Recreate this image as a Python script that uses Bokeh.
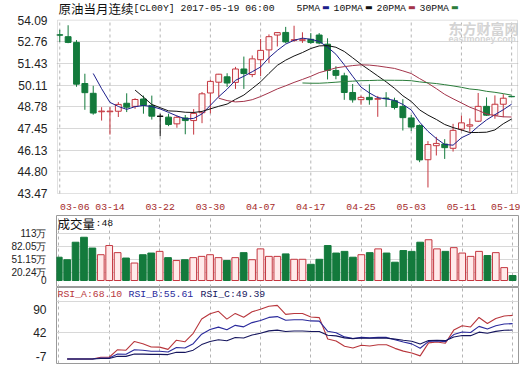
import numpy as np
import pandas as pd
from bokeh.plotting import figure
from bokeh.models import Range1d, FixedTicker, Label, ColumnDataSource, Grid, BoxAnnotation
from bokeh.layouts import column
from bokeh.embed import file_html
from bokeh.resources import INLINE

# ---------------- data ----------------
dates = ["03-06", "03-07", "03-08", "03-09", "03-10", "03-13", "03-14", "03-15", "03-16", "03-17",
         "03-20", "03-21", "03-22", "03-23", "03-24", "03-27", "03-28", "03-29", "03-30", "03-31",
         "04-03", "04-04", "04-05", "04-06", "04-07", "04-10", "04-11", "04-12", "04-13", "04-14",
         "04-17", "04-18", "04-19", "04-20", "04-21", "04-24", "04-25", "04-26", "04-27", "04-28",
         "05-01", "05-02", "05-03", "05-04", "05-05", "05-08", "05-09", "05-10", "05-11", "05-12",
         "05-15", "05-16", "05-17", "05-18", "05-19"]

opens = [53.20, 53.08, 52.73, 50.21, 49.61, 48.48, 48.48, 48.51, 49.00, 48.81,
         49.26, 48.87, 48.20, 48.15, 47.74, 48.10, 47.94, 48.42, 49.63, 50.29,
         50.62, 50.28, 51.10, 50.76, 51.67, 52.27, 53.18, 53.34, 52.86, 52.86,
         52.92, 53.18, 52.62, 51.01, 50.68, 49.66, 49.22, 49.36, 49.25, 49.32,
         49.16, 48.81, 48.10, 47.64, 45.54, 46.40, 46.50, 46.24, 47.42, 47.60,
         47.90, 48.81, 48.27, 48.94, 49.42]
highs = [53.50, 53.78, 52.87, 50.81, 50.07, 48.76, 48.76, 49.07, 49.61, 49.31,
         49.47, 49.47, 48.36, 48.36, 48.24, 48.28, 48.64, 49.69, 50.45, 50.80,
         50.84, 51.23, 51.86, 51.93, 52.94, 53.22, 53.36, 53.68, 53.75, 53.35,
         53.30, 53.30, 52.98, 51.27, 50.87, 50.18, 49.47, 50.16, 49.45, 49.68,
         49.34, 49.25, 48.28, 47.70, 46.68, 46.94, 46.80, 47.74, 48.25, 48.07,
         49.63, 49.36, 49.48, 49.56, 49.43]
lows = [52.76, 52.68, 50.01, 48.60, 48.30, 47.94, 47.08, 48.16, 48.46, 48.66,
        48.36, 48.00, 46.98, 47.60, 47.50, 47.10, 47.08, 47.78, 48.38, 49.36,
        50.00, 49.88, 49.88, 50.60, 50.67, 51.47, 52.48, 52.68, 52.76, 52.70,
        52.64, 52.62, 50.46, 50.47, 49.21, 49.04, 48.91, 48.91, 48.17, 48.78,
        48.62, 47.33, 47.30, 45.39, 43.84, 45.80, 45.59, 46.04, 47.30, 47.25,
        47.85, 48.22, 48.05, 48.15, 49.38]
closes = [53.17, 52.73, 50.17, 49.65, 48.40, 48.52, 48.52, 48.93, 48.76, 49.23,
          48.87, 48.21, 48.20, 47.70, 48.14, 47.94, 48.38, 49.58, 50.34, 50.78,
          50.24, 51.10, 50.82, 51.72, 52.24, 53.08, 53.33, 52.76, 52.89, 52.89,
          52.72, 52.69, 51.01, 50.71, 49.66, 49.21, 49.36, 49.22, 49.28, 49.28,
          48.74, 48.12, 47.54, 45.53, 46.47, 46.54, 46.28, 47.34, 47.80, 47.68,
          48.81, 48.27, 48.94, 49.31, 49.40]
# volume in 万
volumes = [56, 50, 92, 104, 78, 62, 84, 67, 54, 42,
           62, 66, 70, 55, 48, 50, 55, 58, 62, 55,
           48, 55, 67, 50, 76, 58, 58, 64, 51, 51,
           39, 51, 84, 66, 70, 56, 62, 67, 76, 66,
           44, 72, 70, 92, 98, 76, 70, 79, 66, 58,
           70, 60, 67, 31, 12]

price_ticks = [54.09, 52.76, 51.43, 50.11, 48.78, 47.45, 46.13, 44.80, 43.47]
price_tick_labels = ["54.09", "52.76", "51.43", "50.11", "48.78", "47.45", "46.13", "44.80", "43.47"]
vol_ticks = [113, 82.05, 51.15, 20.24, 0]
vol_tick_labels = ["113万", "82.05万", "51.15万", "20.24万", "0"]
rsi_grid_ticks = [90, 42]
rsi_range = (-7, 111.9)

title_cn = "原油当月连续"
title_code = "[CL00Y] 2017-05-19 06:00"
ma_periods = [5, 10, 20, 30]
ma_names = ["5PMA", "10PMA", "20PMA", "30PMA"]
vol_title = "成交量"
vol_value = ":48"
rsi_periods = [6, 12, 24]
rsi_labels = ["RSI_A:68.10", "RSI_B:55.61", "RSI_C:49.39"]
label_step = 6

# ---------------- styles ----------------
RED = "#c4363f"
GREEN = "#137a3c"
BLACK = "#111111"
HOLLOW = "#fff6f6"
VHOLLOW = "#ffeaea"
ma_colors = ["#1d1f8c", "#111111", "#a3344a", "#2b7d3b"]
rsi_colors = ["#b8363c", "#2a2a9c", "#16165e"]
OUTLINE = "#9a9a9a"
HGRID = "#d8d8d8"
VGRID = "#b4b4b4"
MONO = "Liberation Mono"
CJK = "Noto Sans CJK SC"

n = len(closes)
idx = np.arange(n)
o = np.array(opens); hi = np.array(highs); lo = np.array(lows); c = np.array(closes)

ccolor = np.where(c > o, RED, np.where(c < o, GREEN, BLACK))
cfill = np.where(c > o, HOLLOW, ccolor)
vcolor = np.where(c >= o, RED, GREEN)
vfill = np.where(c >= o, VHOLLOW, GREEN)

src = ColumnDataSource(dict(
    x=idx, high=hi, low=lo, top=np.maximum(o, c), bottom=np.minimum(o, c),
    color=list(ccolor), fill=list(cfill), vol=volumes, vcolor=list(vcolor), vfill=list(vfill)))

# panel frames: x 56..518 in the picture
PANEL_LEFT, PANEL_RIGHT_BORDER = 56, 2
X0, X1 = -0.27, 54.7
px_per_x = (520 - PANEL_LEFT - PANEL_RIGHT_BORDER) / (X1 - X0)
label_idx = list(range(0, n, label_step))
xr = Range1d(X0, X1)


def style_yaxis(p, ticks, overrides, size, font, standoff=4):
    ax = p.yaxis[0]
    ax.ticker = FixedTicker(ticks=ticks)
    ax.major_label_overrides = overrides
    ax.major_tick_line_color = None
    ax.minor_tick_line_color = None
    ax.axis_line_color = None
    ax.major_label_standoff = standoff
    ax.major_label_text_font = font
    ax.major_label_text_font_size = size
    ax.major_label_text_color = "#222222"


def put(p, frame_left, frame_top, frame_h, x_abs, y_abs, text, font, size, color, bold=False):
    p.add_layout(Label(x=x_abs - frame_left, y=frame_h - (y_abs - frame_top),
                       x_units="screen", y_units="screen", text=text,
                       text_font=font, text_font_size=size, text_color=color,
                       text_font_style="bold" if bold else "normal",
                       text_baseline="middle", text_align="left"))


# ---------------- main price panel ----------------
# the frame of this figure also holds the header row: frame y 0..197, x 55..519;
# the boxed price area is y 20..196, x 56..518 (drawn as a box annotation)
MAIN_H, M_BOX_TOP, M_BOX_BOT = 212, 20, 196
m_left, m_right_b, m_bottom_b = PANEL_LEFT - 1, PANEL_RIGHT_BORDER - 1, MAIN_H - M_BOX_BOT - 1
m_frame_h = MAIN_H - m_bottom_b
per_px = (price_ticks[0] - price_ticks[-1]) / (M_BOX_BOT - M_BOX_TOP)
main_yr = Range1d(price_ticks[-1] - (m_frame_h - M_BOX_BOT) * per_px, price_ticks[0] + M_BOX_TOP * per_px)
main_xr = Range1d(X0 - 1 / px_per_x, X1 + 1 / px_per_x)

p1 = figure(width=520, height=MAIN_H, x_range=main_xr, y_range=main_yr,
            output_backend="svg", toolbar_location=None,
            min_border_left=m_left, min_border_right=m_right_b,
            min_border_top=0, min_border_bottom=m_bottom_b)
p1.outline_line_color = None
p1.center = [r for r in p1.center if not isinstance(r, Grid)]
style_yaxis(p1, price_ticks, dict(zip(price_ticks, price_tick_labels)), "12px", "Liberation Sans", standoff=3)
p1.add_layout(Grid(dimension=1, ticker=FixedTicker(ticks=price_ticks[1:-1]),
                   grid_line_color=HGRID, grid_line_width=1))
# dashed verticals, only inside the price box
p1.segment(x0=label_idx, x1=label_idx, y0=price_ticks[-1], y1=price_ticks[0],
           line_color=VGRID, line_dash="3 3", line_width=1)

xa = p1.xaxis[0]
xticks = [label_idx[0] + 1.8] + label_idx[1:]
xa.ticker = FixedTicker(ticks=xticks)
xa.major_label_overrides = {t: dates[i] for t, i in zip(xticks, label_idx)}
xa.major_tick_line_color = None
xa.minor_tick_line_color = None
xa.axis_line_color = None
xa.major_label_standoff = 3
xa.major_label_text_font = MONO
xa.major_label_text_font_size = "9.8px"
xa.major_label_text_color = "#a52a2a"

# watermark
put(p1, m_left, 0, m_frame_h, 447, 30, "东方财富网", CJK, "14px", "#d4d4d4", bold=True)
put(p1, m_left, 0, m_frame_h, 447, 41.5, "eastmoney.com", "Liberation Sans", "9px", "#d4d4d4", bold=True)

p1.segment(x0="x", y0="low", x1="x", y1="high", line_color="color", line_width=1, source=src)
p1.vbar(x="x", width=0.7, top="top", bottom="bottom", fill_color="fill", line_color="color",
        line_width=1, source=src)
doji = np.abs(c - o) < 1e-9
if doji.any():
    p1.segment(x0=list(idx[doji] - 0.35), x1=list(idx[doji] + 0.35), y0=list(c[doji]), y1=list(c[doji]),
               line_color=list(ccolor[doji]), line_width=1)

cs = pd.Series(c)
for N, col in zip(ma_periods, ma_colors):
    ma = cs.rolling(N).mean().values
    p1.line(idx, ma, line_color=col, line_width=1)

p1.add_layout(BoxAnnotation(left=X0, right=X1, bottom=price_ticks[-1], top=price_ticks[0],
                            fill_alpha=0, line_color=OUTLINE, line_width=1))

# header row
put(p1, m_left, 0, m_frame_h, 57, 10.5, title_cn, CJK, "12.5px", "#111111")
put(p1, m_left, 0, m_frame_h, 132, 10.5, title_code, MONO, "9.8px", "#111111")
legend_x = [295, 332, 375, 418]
for name, col, lx in zip(ma_names, ma_colors, legend_x):
    put(p1, m_left, 0, m_frame_h, lx, 10.5, name, MONO, "9.8px", "#111111")
    put(p1, m_left, 0, m_frame_h, lx + len(name) * 5.88 + 2, 10, "▬", "DejaVu Sans", "8px", col)


def panel_fig(height, top, bottom, yr):
    p = figure(width=520, height=height, x_range=xr, y_range=yr,
               output_backend="svg", toolbar_location=None,
               min_border_left=PANEL_LEFT, min_border_right=PANEL_RIGHT_BORDER,
               min_border_top=top, min_border_bottom=bottom, x_axis_location=None)
    p.outline_line_color = OUTLINE
    p.center = [r for r in p.center if not isinstance(r, Grid)]
    return p


def add_grids(p, yticks):
    p.add_layout(Grid(dimension=0, ticker=FixedTicker(ticks=label_idx),
                      grid_line_color=VGRID, grid_line_dash="3 3", grid_line_width=1))
    p.add_layout(Grid(dimension=1, ticker=FixedTicker(ticks=yticks),
                      grid_line_color=HGRID, grid_line_width=1))


# ---------------- volume panel: frame y 215..287 ----------------
VT, VH = 215, 72
p2 = panel_fig(75, 3, 0, Range1d(-16.8, 156.25))
style_yaxis(p2, vol_ticks, dict(zip(vol_ticks, vol_tick_labels)), "10px", "Liberation Sans")
add_grids(p2, vol_ticks[:-1])
p2.vbar(x="x", width=0.8, top="vol", bottom=0, fill_color="vfill", line_color="vcolor",
        line_width=1, source=src)
put(p2, PANEL_LEFT, VT, VH, 57, 223, vol_title, CJK, "12.5px", "#111111")
put(p2, PANEL_LEFT, VT, VH, 95, 223, vol_value, MONO, "9.8px", "#111111")

# ---------------- RSI panel: frame y 287..363 ----------------
RT, RH = 287, 76
p3 = panel_fig(78, 0, 2, Range1d(*rsi_range))
# as in the original, the top label sits 8 px under its grid line and the "-7" label
# (the frame's bottom edge) is lifted 7 px so that it stays inside the picture
units_per_px = (rsi_range[1] - rsi_range[0]) / RH
rsi_axis_ticks = [rsi_grid_ticks[0] - 8 * units_per_px, rsi_grid_ticks[1], rsi_range[0] + 7 * units_per_px]
rsi_axis_labels = [str(rsi_grid_ticks[0]), str(rsi_grid_ticks[1]), str(rsi_range[0])]
style_yaxis(p3, rsi_axis_ticks, dict(zip(rsi_axis_ticks, rsi_axis_labels)), "12px", "Liberation Sans")
add_grids(p3, rsi_grid_ticks)
d = cs.diff()
for N, col in zip(rsi_periods, rsi_colors):
    up = d.clip(lower=0).iloc[1:].ewm(alpha=1.0 / N, adjust=False).mean()
    ab = d.abs().iloc[1:].ewm(alpha=1.0 / N, adjust=False).mean()
    rsi = (up / ab * 100).values
    p3.line(idx[1:], rsi, line_color=col, line_width=1.1)
for txt, col, lx in zip(rsi_labels, rsi_colors, [57, 128, 200]):
    put(p3, PANEL_LEFT, RT, RH, lx, 294, txt, MONO, "9.8px", col)

layout = column(p1, p2, p3)
open("out.html", "w").write(file_html(layout, INLINE))
